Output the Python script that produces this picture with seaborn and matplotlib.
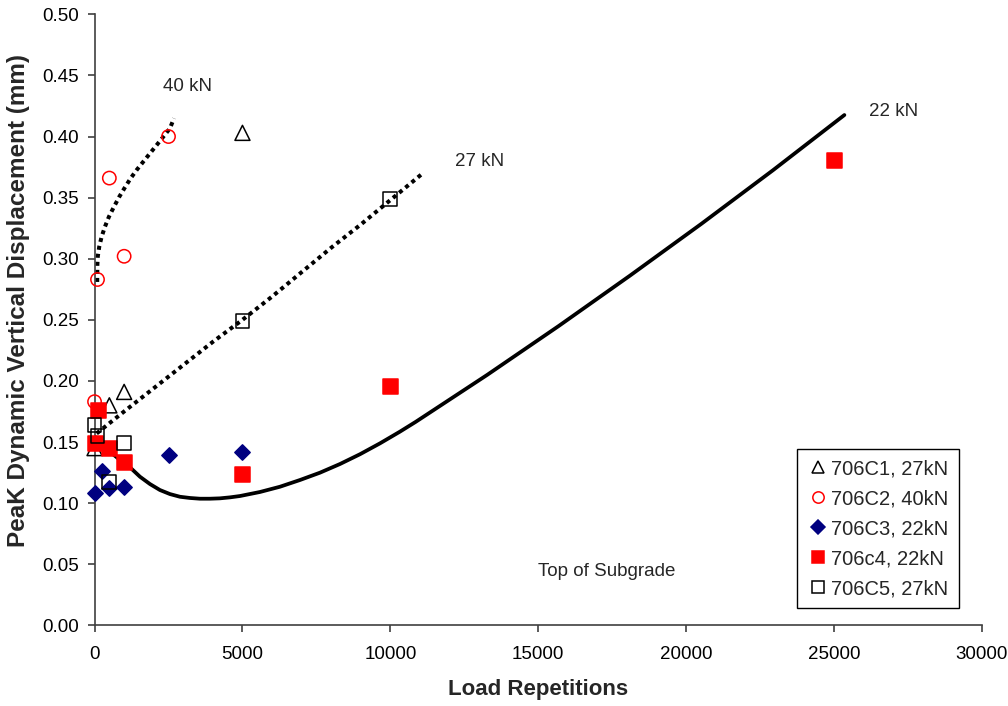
import matplotlib
matplotlib.use("Agg")
import matplotlib.pyplot as plt
import seaborn as sns
import pandas as pd
from matplotlib.lines import Line2D
from matplotlib.ticker import FormatStrFormatter, MultipleLocator

sns.set_theme(style="white")
plt.rcParams['font.family'] = ['Liberation Sans', 'DejaVu Sans']

# Measured peak displacement (mm) against load repetitions
c1_reps = [0, 500, 1000, 5000]
c1_disp = [0.145, 0.180, 0.191, 0.403]
c2_reps = [0, 100, 500, 1000, 2500]
c2_disp = [0.183, 0.283, 0.366, 0.302, 0.400]
c3_reps = [0, 250, 500, 1000, 2500, 5000]
c3_disp = [0.108, 0.126, 0.112, 0.113, 0.139, 0.142]
c4_reps = [0, 100, 500, 1000, 5000, 10000, 25000]
c4_disp = [0.149, 0.176, 0.145, 0.134, 0.124, 0.196, 0.381]
c5_reps = [0, 100, 500, 1000, 5000, 10000]
c5_disp = [0.164, 0.155, 0.117, 0.149, 0.249, 0.349]

# Trend lines per load level
t40_reps = [90, 92, 95, 110, 160, 239, 352, 487, 656, 836, 1028, 1220, 1423,
            1647, 1873, 2100, 2323, 2549, 2685]
t40_disp = [0.281, 0.288, 0.295, 0.302, 0.310, 0.318, 0.3262, 0.3344, 0.3425,
            0.3507, 0.3584, 0.3658, 0.3726, 0.3794, 0.3862, 0.393, 0.3998,
            0.4067, 0.4149]
t27_reps = [70, 1000, 2000, 3000, 4000, 5000, 6000, 7000, 8000, 9000, 10000, 11100]
t27_disp = [0.157, 0.175, 0.194, 0.213, 0.232, 0.250, 0.269, 0.289, 0.309, 0.328, 0.348, 0.370]
t22_reps = [14, 294, 521, 859, 1197, 1535, 1873, 2211, 2549, 2887, 3225, 3563,
            3901, 4239, 4577, 4916, 5592, 6268, 6944, 7620, 8297, 8973, 9649,
            10325, 10857, 13271, 15688, 18102, 20516, 22933, 25348]
t22_disp = [0.1543, 0.1489, 0.1421, 0.1353, 0.1293, 0.1216, 0.1156, 0.1107,
            0.1074, 0.1052, 0.1042, 0.1036, 0.1036, 0.1039, 0.1047, 0.1058,
            0.1091, 0.1134, 0.1189, 0.1249, 0.1320, 0.1400, 0.1489, 0.1585,
            0.1665, 0.2049, 0.2449, 0.2862, 0.3286, 0.3724, 0.4176]

series = [
    ("706C1, 27kN", c1_reps, c1_disp, "^", 10.8, "none", "black"),
    ("706C2, 40kN", c2_reps, c2_disp, "o", 9.6, "none", "red"),
    ("706C3, 22kN", c3_reps, c3_disp, "D", 7.8, "#000080", "#000080"),
    ("706c4, 22kN", c4_reps, c4_disp, "s", 10.8, "red", "red"),
    ("706C5, 27kN", c5_reps, c5_disp, "s", 10.0, "none", "black"),
]

fig = plt.figure(figsize=(10.08, 7.06), dpi=100)
ax = fig.add_axes([0.0938, 0.1143, 0.9742 - 0.0938, 0.9797 - 0.1143])

sns.lineplot(x=t22_reps, y=t22_disp, ax=ax, color="black", lw=2.7,
             estimator=None, sort=False)
dotted = (0, (1.0, 1.0))
for xs, ys in ((t27_reps, t27_disp), (t40_reps, t40_disp)):
    sns.lineplot(x=xs, y=ys, ax=ax, color="black", lw=2.9,
                 linestyle=dotted, estimator=None, sort=False)
for line in ax.get_lines():
    line.set_solid_joinstyle("round")

handles = []
for label, xs, ys, mk, ms, fc, ec in series:
    df = pd.DataFrame({"reps": xs, "disp": ys})
    sns.scatterplot(data=df, x="reps", y="disp", ax=ax, marker=mk, s=ms ** 2,
                    facecolor=fc, edgecolor=ec, linewidth=1.1, clip_on=False,
                    zorder=3)
    handles.append(Line2D([], [], linestyle="none", marker=mk,
                          markersize=ms * 0.85, markerfacecolor=fc,
                          markeredgecolor=ec, markeredgewidth=1.1, label=label))

ax.set_xlim(0, 30000)
ax.set_ylim(0, 0.5)
ax.xaxis.set_major_locator(MultipleLocator(5000))
ax.yaxis.set_major_locator(MultipleLocator(0.05))
ax.yaxis.set_major_formatter(FormatStrFormatter("%.2f"))

axis_col = "#404040"
for side in ("top", "right"):
    ax.spines[side].set_visible(False)
for side in ("left", "bottom"):
    ax.spines[side].set_color(axis_col)
    ax.spines[side].set_linewidth(1.2)
ax.tick_params(axis="both", direction="out", length=5, width=1.2,
               color=axis_col, labelsize=13.5, labelcolor="black")
ax.tick_params(axis="x", pad=10, bottom=True)
ax.tick_params(axis="y", pad=6, left=True)

ax.set_xlabel("Load Repetitions", fontsize=16, fontweight="bold")
ax.set_ylabel("PeaK Dynamic Vertical Displacement (mm)", fontsize=17.5,
              fontweight="bold")
ax.xaxis.set_label_coords(0.5, -0.088)
ax.yaxis.set_label_coords(-0.073, 0.532)

ax.text(2300, 0.4408, "40 kN", fontsize=13.5, va="center", ha="left")
ax.text(12190, 0.3794, "27 kN", fontsize=13.5, va="center", ha="left")
ax.text(26190, 0.4203, "22 kN", fontsize=13.5, va="center", ha="left")
ax.text(14990, 0.0439, "Top of Subgrade", fontsize=13.5, va="center", ha="left")

leg = ax.legend(handles=handles, loc="upper left",
                bbox_to_anchor=(0.7915, 0.2885), borderaxespad=0,
                fontsize=14.5, frameon=True, fancybox=False, framealpha=1,
                edgecolor="black", handlelength=1.1, handletextpad=0.1,
                labelspacing=0.55, borderpad=0.5)
leg.get_frame().set_linewidth(1.0)

fig.savefig("out.png", dpi=100, facecolor="white")
